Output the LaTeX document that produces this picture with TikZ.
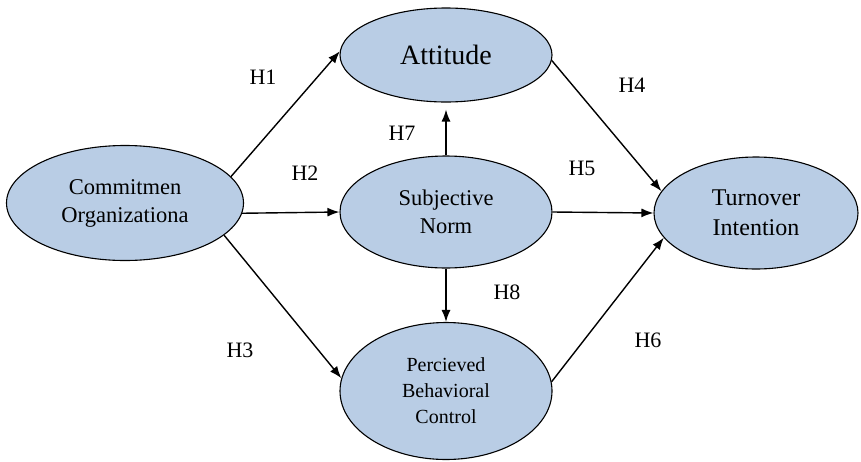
\documentclass[tikz,border=0pt]{standalone}
\usepackage{fontspec}
\setmainfont{Liberation Serif}
\usetikzlibrary{shapes.geometric,arrows.meta}
\definecolor{varfill}{RGB}{185,205,229}

\begin{document}
\begin{tikzpicture}[
    x=1pt, y=-1pt,
    -{Latex[length=12pt,width=9pt]}, line width=1.4pt,
    var/.style={ellipse, draw, fill=varfill, line width=1.1pt,
                inner sep=0pt, align=center},
    hyp/.style={font=\fontsize{22}{24}\selectfont, inner sep=1pt}
]

\useasboundingbox (0,0) rectangle (861,461);

% latent variables
\node[var, minimum width=237pt, minimum height=115pt,
      font=\fontsize{22.5}{28}\selectfont]
    (comm) at (125,203) {Commitmen\\Organizationa};
\node[var, minimum width=212pt, minimum height=94pt,
      font=\fontsize{28}{30}\selectfont]
    (att) at (446,55) {Attitude};
\node[var, minimum width=212pt, minimum height=112pt,
      font=\fontsize{22.5}{28}\selectfont]
    (sn) at (446,212) {Subjective\\Norm};
\node[var, minimum width=212pt, minimum height=137pt,
      font=\fontsize{20}{26}\selectfont]
    (pbc) at (446,391) {Percieved\\Behavioral\\Control};
\node[var, minimum width=204pt, minimum height=112pt,
      font=\fontsize{24}{30}\selectfont]
    (ti) at (756,213) {Turnover\\Intention};

% hypothesis labels
\node[hyp] (h1) at (263,77)  {H1};
\node[hyp] (h2) at (305,173) {H2};
\node[hyp] (h3) at (240,350) {H3};
\node[hyp] (h4) at (632,85)  {H4};
\node[hyp] (h5) at (582,168) {H5};
\node[hyp] (h6) at (648,340) {H6};
\node[hyp] (h7) at (402,133) {H7};
\node[hyp] (h8) at (507,292) {H8};

% commitment -> mediators
\draw (comm.14)  -- (att.178);
\draw (comm.-5)  -- (sn.west);
\draw (comm.-18) -- (pbc.173);

% subjective norm -> attitude, control
\draw[shorten >=7pt] (sn.north) -- (att.south);
\draw (sn.south) -- (pbc.north);

% mediators -> turnover intention
\draw (att.-3)  -- (ti.167);
\draw (sn.east) -- (ti.west);
\draw (pbc.5)   -- (ti.-165);

\end{tikzpicture}
\end{document}
